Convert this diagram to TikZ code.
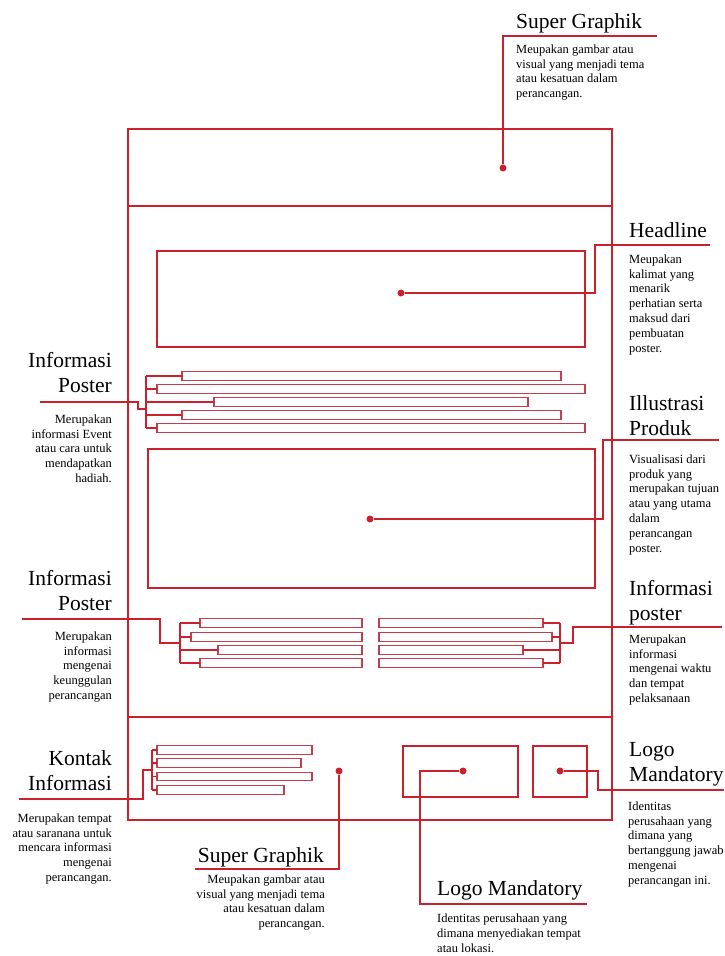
\documentclass[tikz,border=0pt]{standalone}
\usepackage{fontspec}
\setmainfont{Liberation Serif}
\definecolor{mainred}{RGB}{204,32,44}
\definecolor{barred}{RGB}{198,62,76}
\begin{document}
\begin{tikzpicture}[x=1pt,y=-1pt,
  frame/.style={draw=mainred, line width=1.4pt},
  lead/.style={draw=mainred, line width=1.2pt},
  box/.style={draw=mainred, line width=1.3pt, inner sep=0pt, outer sep=0pt},
  bar/.style={draw=barred, line width=1.1pt, inner sep=0pt, outer sep=0pt, minimum height=8.5pt},
  dot/.style={circle, fill=mainred, inner sep=0pt, minimum size=7pt},
  head/.style={inner sep=0pt, font=\fontsize{21.5}{25}\selectfont},
  desc/.style={inner sep=0pt, font=\fontsize{12.5}{14.8}\selectfont},
]
\useasboundingbox[fill=white] (0,0) rectangle (724,956);

% poster frame with top and bottom bands
\draw[frame] (128,129) rectangle (612,820);
\draw[frame] (128,206) -- (612,206);
\draw[frame] (128,717) -- (612,717);

% content blocks
\node[box, minimum width=428pt, minimum height=96pt] (headbox) at (371,299) {};
\node[box, minimum width=447pt, minimum height=139pt] (illbox) at (371.5,518.5) {};
\node[box, minimum width=115pt, minimum height=51pt] (logoa) at (460.5,771.5) {};
\node[box, minimum width=54pt, minimum height=51pt] (logob) at (560,771.5) {};

% text bars, upper group
\node[bar, minimum width=379pt] (t1) at (371.5,376) {};
\node[bar, minimum width=428pt] (t2) at (371,389) {};
\node[bar, minimum width=314pt] (t3) at (371,402) {};
\node[bar, minimum width=379pt] (t4) at (371.5,415) {};
\node[bar, minimum width=428pt] (t5) at (371,428) {};

% text bars, lower left group
\node[bar, minimum width=162pt] (l1) at (281,623) {};
\node[bar, minimum width=171pt] (l2) at (276.5,637) {};
\node[bar, minimum width=144pt] (l3) at (290,650) {};
\node[bar, minimum width=162pt] (l4) at (281,663) {};

% text bars, lower right group
\node[bar, minimum width=164pt] (r1) at (461,623) {};
\node[bar, minimum width=173pt] (r2) at (465.5,637) {};
\node[bar, minimum width=144pt] (r3) at (451,650) {};
\node[bar, minimum width=164pt] (r4) at (461,663) {};

% contact bars
\node[bar, minimum width=155pt] (k1) at (234.5,750) {};
\node[bar, minimum width=144pt] (k2) at (229,763) {};
\node[bar, minimum width=155pt] (k3) at (234.5,776.5) {};
\node[bar, minimum width=127pt] (k4) at (220.5,790) {};

% marker dots
\node[dot] (sgdot) at (503,168) {};
\node[dot] (hldot) at (401,293) {};
\node[dot] (ildot) at (370,519) {};
\node[dot] (bsgdot) at (339,771) {};
\node[dot] (ladot) at (463,771) {};
\node[dot] (lbdot) at (560,771) {};

% labels
\node[head, anchor=base west] (sgtitle) at (516,28.5) {Super Graphik};
\node[desc, anchor=north west, align=left] (sgtext) at (516,44.4)
  {Meupakan gambar atau\\visual yang menjadi tema\\atau kesatuan dalam\\perancangan.};

\node[head, anchor=base west] (hltitle) at (629,237.5) {Headline};
\node[desc, anchor=north west, align=left] (hltext) at (629,254.5)
  {Meupakan\\kalimat yang\\menarik\\perhatian serta\\maksud dari\\pembuatan\\poster.};

\node[head, anchor=north east, align=right] (ip1title) at (112,352.5) {Informasi\\Poster};
\node[desc, anchor=north east, align=right] (ip1text) at (112,414.4)
  {Merupakan\\informasi Event\\atau cara untuk\\mendapatkan\\hadiah.};

\node[head, anchor=north west, align=left] (iltitle) at (629,395.5) {Illustrasi\\Produk};
\node[desc, anchor=north west, align=left] (iltext) at (629,454.4)
  {Visualisasi dari\\produk yang\\merupakan tujuan\\atau yang utama\\dalam\\perancangan\\poster.};

\node[head, anchor=north east, align=right] (ip2title) at (112,570.5) {Informasi\\Poster};
\node[desc, anchor=north east, align=right] (ip2text) at (112,631.4)
  {Merupakan\\informasi\\mengenai\\keunggulan\\perancangan};

\node[head, anchor=north west, align=left] (ip3title) at (629,580.5) {Informasi\\poster};
\node[desc, anchor=north west, align=left] (ip3text) at (629,634.4)
  {Merupakan\\informasi\\mengenai waktu\\dan tempat\\pelaksanaan};

\node[head, anchor=north east, align=right] (kititle) at (112,750.5) {Kontak\\Informasi};
\node[desc, anchor=north east, align=right] (kitext) at (112,813.4)
  {Merupakan tempat\\atau saranana untuk\\mencara informasi\\mengenai\\perancangan.};

\node[head, anchor=base east] (bsgtitle) at (324,862) {Super Graphik};
\node[desc, anchor=north east, align=right] (bsgtext) at (325,874.4)
  {Meupakan gambar atau\\visual yang menjadi tema\\atau kesatuan dalam\\perancangan.};

\node[head, anchor=base west] (latitle) at (437,895) {Logo Mandatory};
\node[desc, anchor=north west, align=left] (latext) at (437,913.6)
  {Identitas perusahaan yang\\dimana menyediakan tempat\\atau lokasi.};

\node[head, anchor=north west, align=left] (lbtitle) at (629,742.5) {Logo\\Mandatory};
\node[desc, anchor=north west, align=left] (lbtext) at (628,801.4)
  {Identitas\\perusahaan yang\\dimana yang\\bertanggung jawab\\mengenai\\perancangan ini.};

% underline ends of the leaders
\coordinate (sgend) at (657,36);
\coordinate (hlend) at (710,245);
\coordinate (ilend) at (719,440);
\coordinate (ip1end) at (40,402);
\coordinate (ip2end) at (22,619);
\coordinate (ip3end) at (722,627);
\coordinate (kiend) at (19,799);
\coordinate (bsgend) at (195,869);
\coordinate (laend) at (587,904);
\coordinate (lbend) at (724,790);

% bracket spines
\coordinate (tsp) at (146,0);
\coordinate (lsp) at (180,0);
\coordinate (rsp) at (560,0);
\coordinate (ksp) at (152,0);

% leaders from the dots
\draw[lead] (sgdot) |- (sgend);
\draw[lead] (hldot) -- (595,293) |- (hlend);
\draw[lead] (ildot) -- (603,519) |- (ilend);
\draw[lead] (bsgdot) |- (bsgend);
\draw[lead] (ladot) -- (420,771) |- (laend);
\draw[lead] (lbdot) -- (598,771) |- (lbend);

% upper bar bracket
\foreach \b in {t1,t2,t3,t4,t5} \draw[lead] (\b.west) -- (\b.west -| tsp);
\draw[lead] (t1.west -| tsp) -- (t5.west -| tsp);
\draw[lead] (ip1end) -- (138,402) -- (138,409) -- (146,409);

% lower left bar bracket
\foreach \b in {l1,l2,l3,l4} \draw[lead] (\b.west) -- (\b.west -| lsp);
\draw[lead] (l1.west -| lsp) -- (l4.west -| lsp);
\draw[lead] (ip2end) -- (160,619) -- (160,643) -- (180,643);

% lower right bar bracket
\foreach \b in {r1,r2,r3,r4} \draw[lead] (\b.east) -- (\b.east -| rsp);
\draw[lead] (r1.east -| rsp) -- (r4.east -| rsp);
\draw[lead] (560,643) -- (573,643) -- (573,627) -- (ip3end);

% contact bar bracket
\foreach \b in {k1,k2,k3,k4} \draw[lead] (\b.west) -- (\b.west -| ksp);
\draw[lead] (k1.west -| ksp) -- (k4.west -| ksp);
\draw[lead] (152,770) -- (143,770) -- (143,799) -- (kiend);
\end{tikzpicture}
\end{document}
